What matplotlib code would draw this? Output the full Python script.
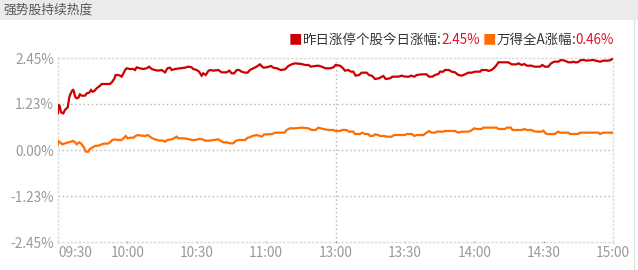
import matplotlib
matplotlib.use("Agg")
import matplotlib.pyplot as plt
from matplotlib.patches import Rectangle
from matplotlib.lines import Line2D

plt.rcParams['font.family'] = ['Noto Sans CJK SC', 'DejaVu Sans']

# ---- data (minutes since 09:30, trading-time axis; value in %) ----
red_t = [0, 0.1, 0.7, 1.3, 2.3, 3.0, 4.2, 4.8, 5.2, 5.9, 6.5, 6.9, 7.4, 8.1, 8.8, 9.5, 10.2, 11.7,
         12.4, 13.5, 14.3, 15.0, 15.7, 16.7, 18.2, 18.9, 20.3, 22.5, 23.5, 24.4, 24.9, 26.1, 26.8,
         27.5, 28.3, 29.0, 29.7, 31.1, 32.6, 33.3, 34.0, 35.5, 36.9, 38.3, 39.4, 40.5, 41.9, 43.4,
         44.8, 46.3, 47.3, 48.4, 49.2, 50.6, 52.8, 54.9, 56.4, 57.8, 58.5, 60.0, 61.0,
         62.1, 62.8, 63.9, 65.0, 65.7, 67.2, 69.3, 70.8, 72.9, 74.1, 75.1, 76.2, 77.3, 78.3, 79.4,
         80.9, 82.0, 83.0, 84.5, 85.9, 87.3, 88.8, 90.2, 92.1, 93.1, 94.6, 96.4, 98.2, 99.6, 101.0,
         102.5, 105.4, 106.8, 108.3, 109.4, 111.1, 112.6, 114.0, 115.7, 117.6, 119.1, 120.0,
         121.9, 123.0, 124.1, 125.5, 126.7, 127.7, 128.7, 130.2, 131.3, 133.5, 134.5, 135.9, 137.1,
         138.8, 140.7, 141.7, 143.6, 144.6, 147.2, 148.6, 150.1, 151.8, 152.6, 154.1, 155.1, 157.3,
         159.4, 160.4, 161.9, 163.0, 164.5, 165.2, 166.6, 167.3, 169.1, 170.2, 171.7, 173.1, 174.6,
         176.0, 177.4, 178.9, 180.3,
         182.5, 183.2, 185.4, 186.1, 187.5, 188.7, 189.7, 190.4, 191.1, 194.7, 196.2, 198.3, 199.1,
         200.5, 201.7, 202.7, 204.8, 206.0, 208.4, 209.4, 210.6, 212.0, 213.2, 214.6, 216.4, 217.5,
         219.2, 220.7, 222.1, 222.8, 223.6, 224.7, 226.2, 227.2, 228.6, 231.5, 232.5, 234.4, 235.8,
         238.0, 239.1, 240.0]
red_v = [0.976, 1.198, 1.181, 1.003, 0.976, 1.065, 1.136, 1.376, 1.465, 1.553, 1.616, 1.553, 1.420,
         1.376, 1.394, 1.482, 1.447, 1.447, 1.509, 1.527, 1.598, 1.553, 1.571, 1.642, 1.713, 1.758,
         1.758, 1.758, 1.820, 1.909, 1.997, 1.997, 1.980, 1.953, 2.042, 2.130, 2.175, 2.157, 2.157,
         2.130, 2.201, 2.175, 2.157, 2.175, 2.219, 2.157, 2.130, 2.113, 2.130, 2.068, 2.175, 2.193,
         2.130, 2.157, 2.175, 2.193, 2.219, 2.201, 2.157, 2.130, 2.086,
         1.980, 2.042, 1.997, 2.104, 2.130, 2.113, 2.130, 2.068, 2.068, 2.113, 2.042, 2.042, 2.130,
         2.130, 2.086, 2.059, 2.059, 2.130, 2.175, 2.219, 2.281, 2.193, 2.201, 2.237, 2.193, 2.175,
         2.130, 2.148, 2.237, 2.281, 2.308, 2.290, 2.264, 2.264, 2.219, 2.237, 2.246, 2.219, 2.175,
         2.175, 2.201, 2.264,
         2.246, 2.193, 2.113, 2.130, 2.086, 2.086, 1.980, 1.997, 2.059, 2.059, 1.997, 1.971, 1.891,
         1.909, 1.971, 1.891, 1.909, 1.953, 1.953, 1.980, 1.953, 1.953, 1.980, 1.953, 1.997, 2.015,
         2.015, 1.953, 1.953, 1.997, 2.024, 2.086, 2.086, 2.130, 2.130, 2.086, 2.068, 1.997, 1.980,
         2.015, 2.059, 2.059, 2.086,
         2.086, 2.130, 2.130, 2.104, 2.130, 2.193, 2.264, 2.335, 2.335, 2.335, 2.281, 2.281, 2.308,
         2.264, 2.290, 2.246, 2.246, 2.219, 2.219, 2.264, 2.219, 2.219, 2.308, 2.352, 2.352, 2.397,
         2.379, 2.335, 2.335, 2.352, 2.335, 2.335, 2.397, 2.397, 2.379, 2.397, 2.379, 2.352, 2.379,
         2.379, 2.397, 2.450]

orange_t = [0, 0.1, 0.9, 1.9, 3.0, 4.5, 5.6, 6.6, 7.4, 8.1, 9.1, 9.9, 10.7, 11.4, 12.0, 13.1, 13.8,
            14.8, 16.0, 17.4, 18.9, 20.0, 21.5, 22.5, 23.5, 24.4, 26.1, 27.5, 28.3, 29.3, 30.1, 31.1,
            32.6, 33.6, 34.5, 36.2, 37.6, 38.8, 39.8, 40.8, 41.9, 43.4, 45.5, 46.3, 47.3, 49.2, 50.6,
            51.3, 52.0, 54.2, 56.4, 57.8, 59.2, 61.0,
            62.1, 63.6, 65.7, 67.2, 69.3, 70.5, 71.5, 72.9, 74.4, 75.8, 76.8, 78.0, 80.9, 82.0, 83.0,
            84.0, 85.9, 87.3, 88.1, 89.2, 90.9, 92.7, 93.8, 96.7, 97.9, 98.9, 100.3, 102.5, 105.4,
            108.3, 109.7, 111.4, 112.6, 114.7, 116.9, 119.1, 120.0,
            122.0, 122.7, 124.8, 125.8, 127.7, 128.4, 130.6, 131.6, 132.7, 134.2, 134.9, 136.4, 137.1,
            138.5, 139.2, 141.1, 142.1, 144.3, 145.4, 147.9, 150.0, 150.8, 153.0, 154.1, 155.1, 158.0,
            159.4, 160.4, 161.6, 163.0, 163.7, 166.6, 167.3, 169.5, 171.7, 173.1, 174.6, 177.4, 178.6,
            180.0, 181.0, 182.0,
            183.2, 183.9, 189.7, 190.4, 193.3, 194.0, 195.9, 196.5, 200.5, 201.7, 202.7, 204.8, 205.5,
            207.0, 209.1, 209.9, 210.6, 211.3, 214.9, 215.6, 216.4, 217.1, 220.7, 221.4, 225.0, 225.7,
            233.7, 234.4, 235.8, 240.0]
orange_v = [0.151, 0.240, 0.204, 0.151, 0.178, 0.204, 0.222, 0.240, 0.204, 0.151, 0.204, 0.178, 0.115,
            0.044, -0.044, -0.044, 0.027, 0.062, 0.107, 0.115, 0.151, 0.169, 0.169, 0.204, 0.266,
            0.284, 0.266, 0.266, 0.311, 0.373, 0.311, 0.328, 0.328, 0.373, 0.399, 0.382, 0.373, 0.399,
            0.355, 0.311, 0.284, 0.257, 0.249, 0.222, 0.266, 0.284, 0.328, 0.355, 0.311, 0.311, 0.293,
            0.266, 0.266, 0.293,
            0.293, 0.249, 0.249, 0.266, 0.284, 0.240, 0.204, 0.204, 0.178, 0.178, 0.240, 0.266, 0.266,
            0.328, 0.337, 0.373, 0.399, 0.373, 0.355, 0.417, 0.417, 0.426, 0.462, 0.462, 0.462, 0.533,
            0.577, 0.577, 0.595, 0.577, 0.533, 0.533, 0.595, 0.559, 0.533, 0.533, 0.506,
            0.506, 0.533, 0.533, 0.488, 0.488, 0.426, 0.426, 0.462, 0.426, 0.426, 0.373, 0.382, 0.417,
            0.399, 0.373, 0.373, 0.355, 0.355, 0.399, 0.399, 0.399, 0.426, 0.426, 0.373, 0.399, 0.399,
            0.462, 0.506, 0.462, 0.462, 0.488, 0.488, 0.506, 0.506, 0.506, 0.462, 0.488, 0.488, 0.515,
            0.577, 0.559, 0.559,
            0.559, 0.595, 0.595, 0.559, 0.559, 0.595, 0.595, 0.533, 0.533, 0.559, 0.533, 0.533, 0.506,
            0.488, 0.488, 0.515, 0.462, 0.426, 0.426, 0.462, 0.488, 0.462, 0.462, 0.426, 0.426, 0.462,
            0.462, 0.426, 0.462, 0.462]

x_ticks = [0, 30, 60, 90, 120, 150, 180, 210, 240]
x_labels = ["09:30", "10:00", "10:30", "11:00", "13:00", "13:30", "14:00", "14:30", "15:00"]
y_ticks = [-2.45, -1.23, 0.00, 1.23, 2.45]
y_labels = ["-2.45%", "-1.23%", "0.00%", "1.23%", "2.45%"]

title = "强势股持续热度"
series_names = ["昨日涨停个股今日涨幅", "万得全A涨幅"]
series_last = ["2.45%", "0.46%"]
colors = ["#cc0000", "#ff6c00"]

# ---- figure ----
W, H = 638, 270
fig = plt.figure(figsize=(W / 100, H / 100), dpi=100)
fig.patch.set_facecolor("white")

# title bar
fig.add_artist(Rectangle((0, 1 - 20 / H), 1, 20 / H, transform=fig.transFigure,
                         facecolor="#ebebeb", edgecolor="none"))
fig.text(3 / W, 1 - 10.5 / H, title, fontsize=9.2, color="#555555", va="center", ha="left")
# right faint border
fig.add_artist(Line2D([633.5 / W, 633.5 / W], [0, 1 - 20 / H], transform=fig.transFigure,
                      color="#e2e2e2", lw=1))

L, R, T, B = 58, 613, 58, 242
ax = fig.add_axes([L / W, 1 - B / H, (R - L) / W, (B - T) / H])
ax.set_xlim(0, 240)
ax.set_ylim(-2.45, 2.45)

grid_col = "#b4b4b4"
light_col = "#dcdcdc"
dot = (0, (1, 2))
for yv in [1.23, 0.0, -1.23]:
    ax.axhline(yv, color=grid_col, lw=1, ls=dot, zorder=1)
ax.axvline(120, color=grid_col, lw=1, ls=dot, zorder=1)
for s in ax.spines.values():
    s.set_color(light_col)
    s.set_linestyle(dot)
    s.set_linewidth(1)

ax.plot(orange_t, orange_v, color=colors[1], lw=1.6, zorder=3, solid_joinstyle="miter")
ax.plot(red_t, red_v, color=colors[0], lw=1.6, zorder=4, solid_joinstyle="miter")

tick_col = "#999999"
ax.set_xticks(x_ticks)
ax.set_xticklabels(x_labels)
ax.set_yticks(y_ticks)
ax.set_yticklabels(y_labels)
ax.tick_params(axis="x", length=2, width=1, color="#aaaaaa", direction="inout",
               labelsize=9.8, labelcolor=tick_col, pad=2)
ax.tick_params(axis="y", length=0, labelsize=9.8, labelcolor=tick_col, pad=3)
ax.get_xticklabels()[0].set_ha("left")

# legend (rainbow text chain), right-aligned to the plot's right edge
fs = 9.7
lab_col = "#333333"
val_col = "#e0102a"
pieces = [("■", colors[0]), (series_names[0], lab_col), (":", lab_col), (series_last[0], val_col),
          (" ", lab_col),
          ("■", colors[1]), (series_names[1], lab_col), (":", lab_col), (series_last[1], val_col)]
first = fig.text(291 / W, 1 - 47 / H, pieces[0][0], color=pieces[0][1], fontsize=fs,
                 va="bottom", ha="left")
prev = first
for txt, c in pieces[1:]:
    prev = ax.annotate(txt, xy=(1, 0), xycoords=prev, va="bottom", ha="left",
                       color=c, fontsize=fs, annotation_clip=False)

fig.canvas.draw()
r = fig.canvas.get_renderer()
right_px = prev.get_window_extent(r).x1
shift = (R + 1) - right_px
x0, y0 = first.get_position()
first.set_position((x0 + shift / W, y0))

fig.savefig("out.png", dpi=100, facecolor="white")
